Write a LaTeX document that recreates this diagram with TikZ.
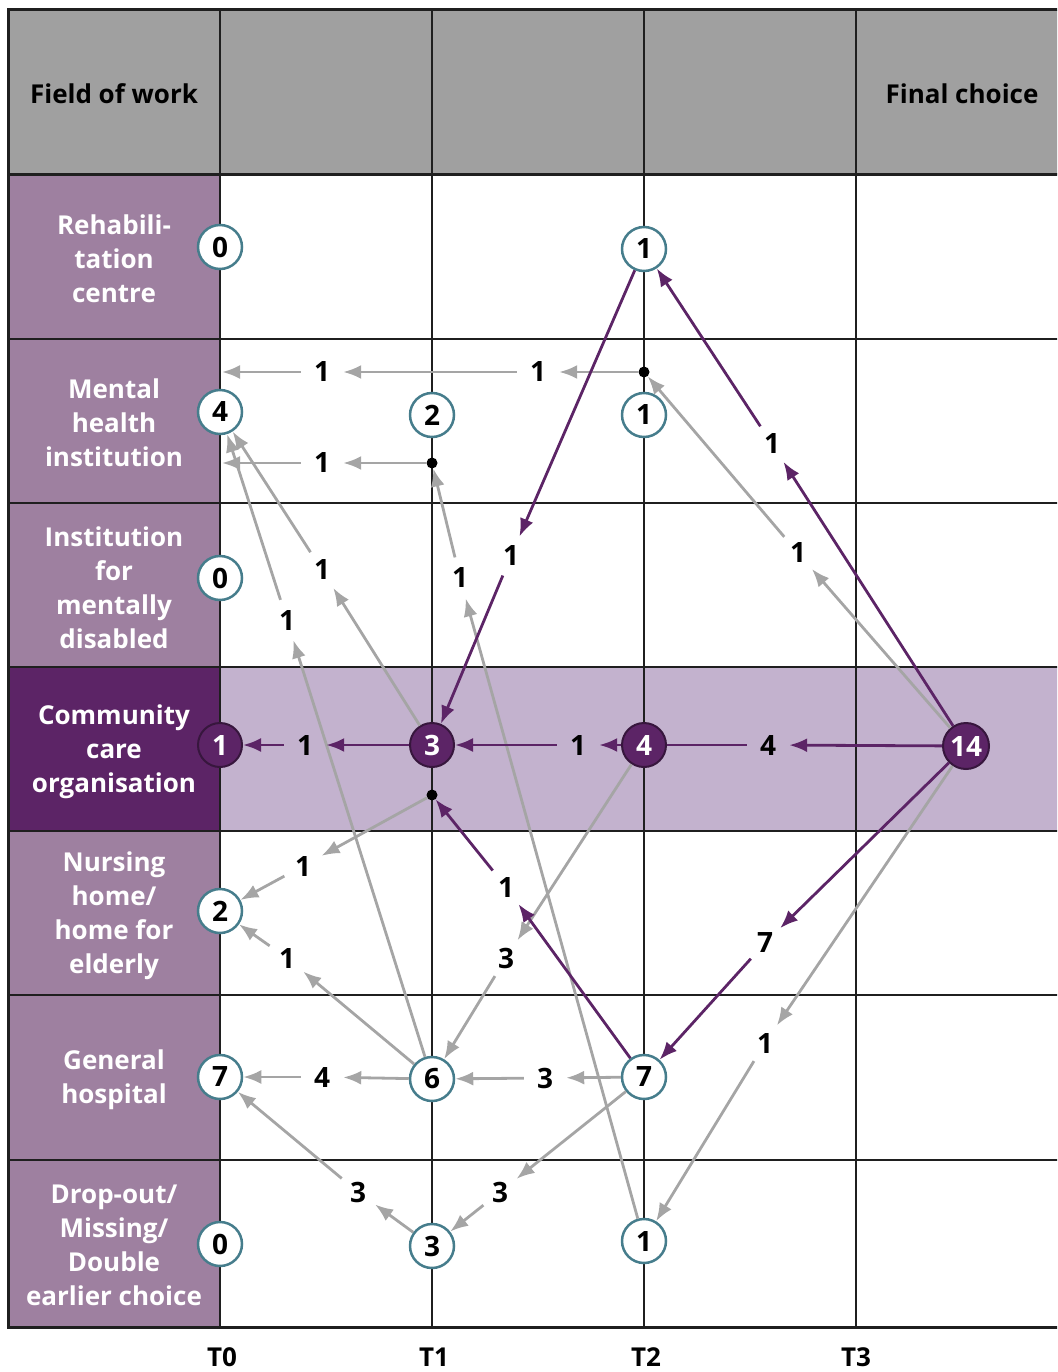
\documentclass[tikz,border=0pt]{standalone}
\usepackage{fontspec}
\setmainfont{Open Sans}
\usetikzlibrary{arrows.meta}
\definecolor{hdr}{RGB}{160,160,160}
\definecolor{lpurp}{RGB}{158,128,160}
\definecolor{dpurp}{RGB}{92,36,102}
\definecolor{band}{RGB}{195,178,206}
\definecolor{agray}{RGB}{165,165,165}
\definecolor{tealc}{RGB}{70,125,140}
\begin{document}
\begin{tikzpicture}[x=1pt,y=-1pt,
  font=\fontsize{26}{34}\selectfont\bfseries,
  numf/.style={font=\fontsize{28}{34}\selectfont\bfseries},
  gridl/.style={line width=2.4pt,black!88},
  wnode/.style={circle,draw=tealc,line width=2.5pt,fill=white,minimum size=44pt,inner sep=0pt,numf},
  pnode/.style={circle,draw=dpurp!60!black,line width=2pt,fill=dpurp,text=white,minimum size=44pt,inner sep=0pt,numf},
  dotn/.style={circle,fill=black,minimum size=11pt,inner sep=0pt},
  lab/.style={circle,minimum size=42pt,inner sep=0pt,numf},
  rowlab/.style={align=center,text=white},
  garr/.style={draw=agray,line width=2.8pt,-{Latex[length=18pt,width=14pt]}},
  parr/.style={draw=dpurp,line width=2.8pt,-{Latex[length=18pt,width=14pt]}},
  pline/.style={draw=dpurp,line width=2.8pt}]
\useasboundingbox (0,0) rectangle (1057,1372);
\clip (0,0) rectangle (1057,1372);
% backgrounds
\fill[hdr] (8,10) rectangle (1070,175);
\fill[lpurp] (8,175) rectangle (220,1327);
\fill[dpurp] (8,667) rectangle (220,831);
\fill[band] (220,667) rectangle (1070,831);
% grid
\foreach \y in {339,503,667,831,995,1160} \draw[gridl] (8,\y) -- (1070,\y);
\foreach \x in {220,432,644,856} \draw[gridl] (\x,10) -- (\x,1327);
\draw[line width=3pt,black!88] (8,175) -- (1070,175);
\draw[line width=3pt,black!88] (8,10) rectangle (1070,1327);
% header and row texts
\node (hfield) at (114,94) {Field of work};
\node (hfinal) at (962,94) {Final choice};
\node[rowlab] (rl1) at (114,259) {Rehabili-\\tation\\centre};
\node[rowlab] (rl2) at (114,423) {Mental\\health\\institution};
\node[rowlab] (rl3) at (114,588) {Institution\\for\\mentally\\disabled};
\node[rowlab] (rl4) at (114,752) {Community\\care\\organisation};
\node[rowlab] (rl5) at (114,916) {Nursing\\home/\\home for\\elderly};
\node[rowlab] (rl6) at (114,1080) {General\\hospital};
\node[rowlab] (rl7) at (114,1245) {Drop-out/\\Missing/\\Double\\earlier choice};
% time labels
\node (t0) at (222,1357) {T0};
\node (t1) at (434,1357) {T1};
\node (t2) at (646,1357) {T2};
\node (t3) at (856,1357) {T3};
% count nodes
\node[wnode] (r0) at (220,247) {0};
\node[wnode] (r2) at (644,249) {1};
\node[wnode] (m0) at (220,412) {4};
\node[wnode] (m1) at (432,415) {2};
\node[wnode] (m2) at (644,415) {1};
\node[wnode] (i0) at (220,578) {0};
\node[pnode] (c0) at (220,745) {1};
\node[pnode] (c1) at (432,745) {3};
\node[pnode] (c2) at (644,745) {4};
\node[pnode,minimum size=46pt] (cf) at (966,746) {14};
\node[wnode] (n0) at (220,911) {2};
\node[wnode] (g0) at (220,1077) {7};
\node[wnode] (g1) at (432,1079) {6};
\node[wnode] (g2) at (644,1077) {7};
\node[wnode] (d0) at (220,1244) {0};
\node[wnode] (d1) at (432,1246) {3};
\node[wnode] (d2) at (644,1241) {1};
% junction dots
\node[dotn] (dm2) at (644,372) {};
\node[dotn] (dm1) at (432,463) {};
\node[dotn] (dc1) at (432,795) {};
\coordinate (e1) at (222,372);
\coordinate (e2) at (222,463);
% edge labels
\node[lab] (la1) at (538,372) {1};
\node[lab] (la2) at (322,372) {1};
\node[lab] (lb) at (322,463) {1};
\node[lab] (lc) at (287,620) {1};
\node[lab] (ld) at (322,570) {1};
\node[lab] (le) at (460,578) {1};
\node[lab] (lf) at (798,553) {1};
\node[lab] (lg) at (765,1043) {1};
\node[lab] (lh) at (506,958) {3};
\node[lab] (li) at (303,866) {1};
\node[lab] (lj) at (287,958) {1};
\node[lab] (lk) at (545,1078) {3};
\node[lab] (ll) at (322,1077) {4};
\node[lab] (lm) at (358,1192) {3};
\node[lab] (ln) at (500,1192) {3};
\node[lab] (lp1) at (768,745) {4};
\node[lab] (lp2) at (578,745) {1};
\node[lab] (lp3) at (305,745) {1};
\node[lab] (lp4) at (772,444) {1};
\node[lab] (lp5) at (511,556) {1};
\node[lab] (lp6) at (506,887) {1};
\node[lab] (lp7) at (765,943) {7};
% grey connectors
\draw[garr] (dm2) -- (la1);
\draw[garr] (la1) -- (la2);
\draw[garr] (la2) -- (e1);
\draw[garr] (dm1) -- (lb);
\draw[garr] (lb) -- (e2);
\draw[garr] (g1) -- (lc);
\draw[garr] (lc) -- (m0);
\draw[garr] (c1) -- (ld);
\draw[garr] (ld) -- (m0);
\draw[garr] (d2) -- (le);
\draw[garr] (le) -- (dm1);
\draw[garr] (cf) -- (lf);
\draw[garr] (lf) -- (dm2);
\draw[garr] (cf) -- (lg);
\draw[garr] (lg) -- (d2);
\draw[garr] (c2) -- (lh);
\draw[garr] (lh) -- (g1);
\draw[garr] (dc1) -- (li);
\draw[garr] (li) -- (n0);
\draw[garr] (g1) -- (lj);
\draw[garr] (lj) -- (n0);
\draw[garr] (g2) -- (lk);
\draw[garr] (lk) -- (g1);
\draw[garr] (g1) -- (ll);
\draw[garr] (ll) -- (g0);
\draw[garr] (d1) -- (lm);
\draw[garr] (lm) -- (g0);
\draw[garr] (g2) -- (ln);
\draw[garr] (ln) -- (d1);
% purple connectors
\draw[parr] (cf) -- (lp1);
\draw[pline] (lp1) -- (c2);
\draw[parr] (c2) -- (lp2);
\draw[parr] (lp2) -- (c1);
\draw[parr] (c1) -- (lp3);
\draw[parr] (lp3) -- (c0);
\draw[parr] (cf) -- (lp4);
\draw[parr] (lp4) -- (r2);
\draw[parr] (r2) -- (lp5);
\draw[parr] (lp5) -- (c1);
\draw[parr] (g2) -- (lp6);
\draw[parr] (lp6) -- (dc1);
\draw[parr] (cf) -- (lp7);
\draw[parr] (lp7) -- (g2);
\end{tikzpicture}
\end{document}
